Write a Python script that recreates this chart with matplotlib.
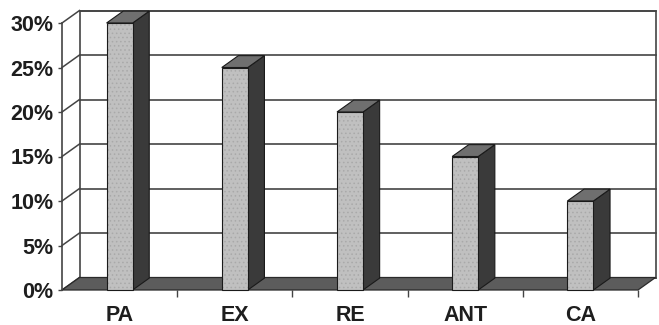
import matplotlib
matplotlib.use("Agg")
import matplotlib.pyplot as plt
from matplotlib.patches import Polygon
from matplotlib.ticker import FixedLocator

categories = ["PA", "EX", "RE", "ANT", "CA"]
values = [30, 25, 20, 15, 10]
yticks = [0, 5, 10, 15, 20, 25, 30]
ytick_labels = ["0%", "5%", "10%", "15%", "20%", "25%", "30%"]

plt.rcParams["hatch.linewidth"] = 0.6

W, H = 659, 325
fig = plt.figure(figsize=(W / 100, H / 100), dpi=100)
fig.patch.set_facecolor("white")

ax_left, ax_right, ax_top, ax_bottom = 62, 638, 23, 290
ax = fig.add_axes([ax_left / W, (H - ax_bottom) / H,
                   (ax_right - ax_left) / W, (ax_bottom - ax_top) / H])
n = len(categories)
ymax = 30
ax.set_xlim(-0.5, n - 0.5)
ax.set_ylim(0, ymax)
ax.set_facecolor("none")

# depth offset (pixels) converted to data units
DX_PX, DY_PX = 17.5, 12.5
dxd = DX_PX / ((ax_right - ax_left) / n)
dyd = DY_PX / ((ax_bottom - ax_top) / ymax)


def P(x, y, z):
    return (x + z * dxd, y + z * dyd)


grid_c = "#444444"
x0, x1 = -0.5, n - 0.5

# back wall
wall = Polygon([P(x0, 0, 1), P(x1, 0, 1), P(x1, ymax, 1), P(x0, ymax, 1)],
               closed=True, facecolor="white", edgecolor=grid_c, lw=1.2,
               clip_on=False, zorder=1)
ax.add_patch(wall)
for t in yticks:
    xs, ys = zip(P(x0, t, 1), P(x1, t, 1))
    ax.plot(xs, ys, color=grid_c, lw=1.2, clip_on=False, zorder=2)
    # left side wall diagonals
    xs, ys = zip(P(x0, t, 0), P(x0, t, 1))
    ax.plot(xs, ys, color=grid_c, lw=1.1, clip_on=False, zorder=2)

# floor
floor = Polygon([P(x0, 0, 0), P(x1, 0, 0), P(x1, 0, 1), P(x0, 0, 1)],
                closed=True, facecolor="#5c5c5c", edgecolor="#2a2a2a", lw=0.9,
                clip_on=False, zorder=3)
ax.add_patch(floor)

# bars
w = 0.113
z1 = 0.95
for i, v in enumerate(values):
    c = i
    front = [P(c - w, 0, 0), P(c + w, 0, 0), P(c + w, v, 0), P(c - w, v, 0)]
    side = [P(c + w, 0, 0), P(c + w, 0, z1), P(c + w, v, z1), P(c + w, v, 0)]
    top = [P(c - w, v, 0), P(c + w, v, 0), P(c + w, v, z1), P(c - w, v, z1)]
    ax.add_patch(Polygon(side, closed=True, facecolor="#3a3a3a",
                         edgecolor="#1a1a1a", lw=0.8, clip_on=False, zorder=4))
    ax.add_patch(Polygon(top, closed=True, facecolor="#6f6f6f",
                         edgecolor="#1a1a1a", lw=0.8, clip_on=False, zorder=4))
    ax.add_patch(Polygon(front, closed=True, facecolor="#c0c0c0",
                         edgecolor="none", lw=0, clip_on=False, zorder=5))
    ax.add_patch(Polygon(front, closed=True, facecolor="none",
                         edgecolor="#a9a9a9", lw=0, hatch="....",
                         clip_on=False, zorder=5.5))
    ax.add_patch(Polygon(front, closed=True, facecolor="none",
                         edgecolor="#1a1a1a", lw=0.8, clip_on=False, zorder=6))

# axes styling
for s in ["top", "right", "bottom"]:
    ax.spines[s].set_visible(False)
ax.spines["left"].set_color(grid_c)
ax.spines["left"].set_linewidth(1.2)
ax.spines["left"].set_zorder(6)

font = dict(family="Liberation Sans", weight="bold", size=15.5, color="#1e1e1e")
ax.set_yticks(yticks)
ax.set_yticklabels(ytick_labels, fontdict=font)
ax.tick_params(axis="y", length=3, width=1, color=grid_c, pad=3)

ax.set_xticks(range(n))
ax.set_xticklabels(categories, fontdict=font)
ax.tick_params(axis="x", which="major", length=0, pad=11)
ax.xaxis.set_minor_locator(FixedLocator([k + 0.5 for k in range(n)]))
ax.tick_params(axis="x", which="minor", length=5, width=1, color=grid_c)

fig.savefig("out.png", dpi=100)
